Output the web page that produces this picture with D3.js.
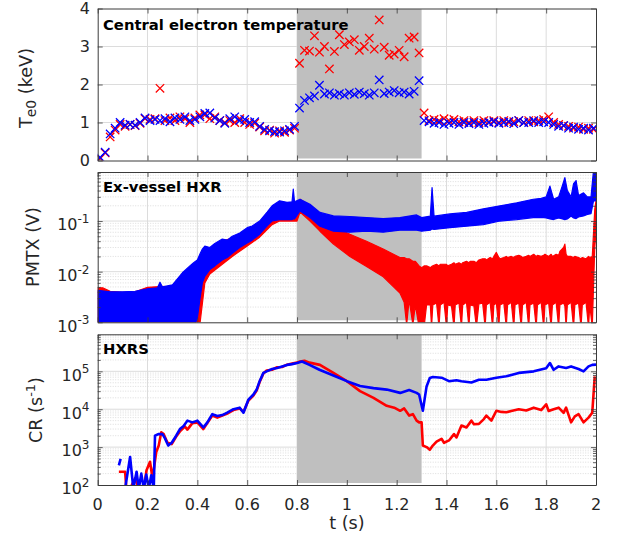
<!DOCTYPE html>
<html><head><meta charset="utf-8">
<script src="https://cdn.jsdelivr.net/npm/d3@7"></script>
<style>
body{margin:0;background:#fff}
svg{display:block}
text{font-family:"DejaVu Sans",sans-serif;fill:#262626}
</style>
</head><body>
<svg id="c" width="620" height="538"></svg>
<script>
// ---------------- DATA ----------------
const X_TICKS = [0,0.2,0.4,0.6,0.8,1,1.2,1.4,1.6,1.8,2];
const X_LABELS = ["0","0.2","0.4","0.6","0.8","1","1.2","1.4","1.6","1.8","2"];
const SHADE = [0.8, 1.3];

// Panel 1: central electron temperature (keV)
const TE_T = [0.01,0.03,0.05,0.07,0.09,0.11,0.13,0.15,0.17,0.19,0.21,0.23,0.25,0.27,0.29,0.31,0.33,0.35,0.37,0.39,
  0.41,0.43,0.45,0.47,0.49,0.51,0.53,0.55,0.57,0.59,0.61,0.63,0.65,0.67,0.69,0.71,0.73,0.75,0.77,0.79,
  0.81,0.83,0.85,0.87,0.89,0.91,0.93,0.95,0.97,0.99,1.01,1.03,1.05,1.07,1.09,1.11,1.13,1.15,1.17,1.19,
  1.21,1.23,1.25,1.27,1.29,1.31,1.33,1.35,1.37,1.39,1.41,1.43,1.45,1.47,1.49,1.51,1.53,1.55,1.57,1.59,
  1.61,1.63,1.65,1.67,1.69,1.71,1.73,1.75,1.77,1.79,1.81,1.83,1.85,1.87,1.89,1.91,1.93,1.95,1.97,1.99];
const TE_BLUE = [0.08,0.22,0.70,0.85,1.00,0.93,0.95,0.93,1.00,1.12, 1.05,1.08,1.05,1.10,1.02,1.12,1.08,1.15,1.05,1.08,
  1.15,1.24,1.25,1.12,1.05,0.98,1.10,1.15,1.05,1.08, 1.00,1.02,0.90,0.82,0.78,0.76,0.75,0.78,0.82,0.90,
  1.38,1.58,1.65,1.70,1.98,1.75,1.78,1.72,1.76,1.72, 1.78,1.74,1.80,1.76,1.72,1.78,2.12,1.76,1.80,1.84,
  1.78,1.80,1.75,1.82,2.10, 1.05,1.02,0.98,1.00,0.95, 0.98,1.00,0.95,1.00,0.97,1.00,0.95,0.98,1.00,1.02,
  0.98,1.00,1.03,0.97,1.05,1.00,1.00,1.05,1.00,1.02, 1.00,0.95,0.90,0.92,0.85,0.88,0.82,0.85,0.80,0.85];
const TE_RED = [0.05,0.20,0.62,0.80,0.95,0.90,0.95,0.92,0.98,1.10, 1.08,1.10,1.90,1.05,1.12,1.05,1.15,1.10,1.00,1.12,
  1.20,1.20,1.10,1.15,1.05,1.00,1.05,1.00,1.10,1.00, 0.95,0.98,0.88,0.78,0.80,0.72,0.78,0.74,0.80,0.85,
  2.56,2.90,2.88,3.28,2.85,3.00,2.41,2.87,3.31,3.05, 3.12,3.18,2.90,3.00,3.22,2.93,3.70,2.98,2.77,2.80,
  2.90,2.73,3.22,3.25,2.83, 1.25,1.05,1.08,1.05,1.10, 1.05,1.08,1.02,1.05,1.00,1.05,1.00,1.05,1.02,1.05,
  1.00,1.05,1.00,1.02,1.05,1.00,1.05,1.02,1.05,1.08, 1.15,1.00,0.95,0.92,0.90,0.85,0.88,0.82,0.85,0.82];
const TE_TICKS = [0,1,2,3,4];

// Panel 2: ex-vessel HXR, PMTX (V) -- noisy signal envelope [t, upper, lower]
const PMTX_BLUE = [[0,0.0043,0.0008],[0.05,0.0040,0.0008],[0.1,0.0040,0.0008],[0.15,0.0041,0.0008],[0.2,0.0046,0.0008],
  [0.24,0.0048,0.0008],[0.25,0.0062,0.0008],[0.26,0.005,0.0008],[0.3,0.0055,0.0008],[0.34,0.0095,0.0008],
  [0.37,0.013,0.0008],[0.385,0.015,0.0008],[0.4,0.017,0.0012],[0.41,0.022,0.0028],[0.42,0.028,0.006],[0.43,0.032,0.0081],
  [0.45,0.03,0.011],[0.47,0.036,0.013],[0.5,0.044,0.017],[0.52,0.042,0.019],[0.54,0.05,0.023],[0.57,0.058,0.03],
  [0.6,0.074,0.037],[0.62,0.08,0.042],[0.65,0.1,0.055],[0.68,0.15,0.08],[0.7,0.2,0.1],[0.73,0.251,0.107],[0.76,0.234,0.107],
  [0.78,0.24,0.107],[0.785,0.427,0.11],[0.79,0.24,0.11],[0.812,0.269,0.158],[0.852,0.214,0.117],[0.892,0.148,0.079],
  [0.946,0.126,0.063],[1.012,0.123,0.06],[1.079,0.117,0.063],[1.146,0.112,0.06],[1.213,0.117,0.066],[1.28,0.132,0.066],
  [1.3,0.117,0.063],[1.335,0.125,0.066],[1.342,0.457,0.07],[1.35,0.125,0.068],[1.414,0.138,0.074],[1.481,0.148,0.079],
  [1.548,0.174,0.085],[1.615,0.2,0.1],[1.682,0.229,0.107],[1.748,0.269,0.117],[1.78,0.28,0.118],[1.80,0.3,0.115],
  [1.815,0.49,0.11],[1.83,0.27,0.107],[1.85,0.3,0.115],[1.865,0.5,0.11],[1.875,0.72,0.107],[1.885,0.4,0.11],
  [1.9,0.3,0.126],[1.91,0.55,0.115],[1.92,0.63,0.112],[1.93,0.32,0.12],[1.95,0.36,0.126],[1.965,0.3,0.135],
  [1.98,0.3,0.14],[1.99,1.0,0.25],[2.0,1.0,0.25]];
const PMTX_RED = [[0,0.0048,0.0008],[0.02,0.0048,0.0008],[0.05,0.0041,0.0008],[0.1,0.0039,0.0008],[0.15,0.004,0.0008],
  [0.2,0.0049,0.0008],[0.25,0.0051,0.0008],[0.3,0.005,0.0008],[0.34,0.009,0.0008],[0.37,0.012,0.0008],[0.39,0.014,0.0008],
  [0.4,0.015,0.0008],[0.41,0.02,0.0009],[0.43,0.028,0.006],[0.45,0.028,0.009],[0.5,0.04,0.014],[0.54,0.046,0.02],
  [0.6,0.068,0.032],[0.65,0.09,0.048],[0.7,0.16,0.085],[0.73,0.2,0.1],[0.76,0.2,0.1],[0.8,0.21,0.1],[0.812,0.269,0.151],
  [0.852,0.2,0.1],[0.892,0.126,0.063],[0.946,0.079,0.035],[1.012,0.055,0.02],[1.079,0.04,0.0126],[1.146,0.028,0.0079],
  [1.213,0.019,0.0038],[1.23,0.019,0.0025],[1.24,0.018,0.0009],[1.25,0.018,0.0028],[1.265,0.016,0.0009],[1.275,0.016,0.0022],
  [1.29,0.013,0.0008],[1.3,0.012,0.0008],[1.31,0.013,0.0008],[1.32,0.013,0.0022],[1.335,0.012,0.0022],[1.34,0.0126,0.0008],
  [1.345,0.013,0.0022],[1.36,0.014,0.0024],[1.37,0.013,0.0008],[1.375,0.014,0.0022],[1.39,0.014,0.0025],[1.4,0.014,0.0008],
  [1.405,0.013,0.0022],[1.42,0.014,0.0021],[1.43,0.015,0.0008],[1.435,0.014,0.0022],[1.45,0.015,0.0024],[1.46,0.014,0.0008],
  [1.465,0.015,0.0022],[1.48,0.016,0.0025],[1.49,0.015,0.0008],[1.495,0.016,0.0022],[1.51,0.016,0.0021],[1.52,0.015,0.0008],
  [1.53,0.017,0.0023],[1.545,0.018,0.0024],[1.555,0.018,0.0008],[1.56,0.017,0.0022],[1.575,0.019,0.0025],[1.585,0.018,0.0008],
  [1.59,0.02,0.0022],[1.6,0.024,0.0024],[1.61,0.019,0.0008],[1.615,0.018,0.0022],[1.63,0.019,0.0024],[1.64,0.02,0.0008],
  [1.645,0.019,0.0022],[1.66,0.02,0.0025],[1.67,0.019,0.0008],[1.675,0.02,0.0022],[1.69,0.021,0.0024],[1.7,0.02,0.0008],
  [1.705,0.019,0.0022],[1.72,0.02,0.0025],[1.73,0.021,0.0008],[1.735,0.02,0.0022],[1.75,0.022,0.0024],[1.76,0.02,0.0008],
  [1.765,0.021,0.0022],[1.78,0.02,0.0025],[1.79,0.021,0.0008],[1.795,0.022,0.0022],[1.81,0.02,0.0024],[1.82,0.022,0.0008],
  [1.825,0.02,0.0022],[1.84,0.022,0.0025],[1.85,0.021,0.0008],[1.855,0.025,0.0022],[1.87,0.03,0.0024],[1.875,0.035,0.0021],
  [1.88,0.022,0.0008],[1.885,0.02,0.0022],[1.9,0.02,0.0025],[1.91,0.019,0.0008],[1.915,0.02,0.0022],[1.93,0.019,0.0024],
  [1.94,0.018,0.0008],[1.945,0.019,0.0022],[1.96,0.018,0.0025],[1.97,0.02,0.0008],[1.975,0.019,0.0022],[1.985,0.02,0.0008],
  [1.995,0.17,0.03],[2.0,0.25,0.06]];
const PMTX_TICKS = [1e-3,1e-2,1e-1];
const PMTX_EXP = ["-3","-2","-1"];

// Panel 3: HXRS count rate (s^-1)  [t, value]; null = gap
const CR_BLUE = [[0.085,330],[0.092,490],[0.1,null],[0.11,80],[0.13,550],[0.143,80],[0.156,224],[0.165,80],[0.175,200],
  [0.185,80],[0.195,190],[0.205,80],[0.215,180],[0.225,80],[0.23,2000],[0.243,2200],[0.26,2200],[0.27,1700],[0.283,1100],
  [0.297,1300],[0.315,2000],[0.33,3000],[0.345,3600],[0.36,5000],[0.38,4500],[0.4,5000],[0.424,3300],[0.44,4500],
  [0.46,7400],[0.48,6600],[0.5,7000],[0.518,8000],[0.545,10000],[0.57,11000],[0.585,8100],[0.605,18000],[0.625,24500],
  [0.638,33000],[0.65,55000],[0.665,91000],[0.678,100000],[0.7,115000],[0.72,123000],[0.74,135000],[0.76,148000],
  [0.78,155000],[0.8,166000],[0.82,182000],[0.85,148000],[0.89,110000],[0.946,78000],[1.0,55000],[1.053,41000],
  [1.107,36000],[1.16,33000],[1.214,27000],[1.25,32000],[1.28,27000],[1.29,24500],[1.305,9100],[1.32,40000],
  [1.333,67000],[1.345,71000],[1.38,68000],[1.41,55000],[1.44,58000],[1.46,55000],[1.5,51000],[1.53,60000],
  [1.56,60000],[1.6,68000],[1.64,74000],[1.69,91000],[1.75,100000],[1.8,120000],[1.815,166000],[1.83,110000],
  [1.85,135000],[1.88,123000],[1.9,135000],[1.93,115000],[1.95,100000],[1.97,135000],[1.985,148000],[2.0,150000]];
const CR_RED = [[0.085,224],[0.11,224],[0.115,80],[0.13,80],[0.15,150],[0.165,80],[0.185,80],[0.196,245],[0.21,410],
  [0.22,150],[0.235,740],[0.245,1100],[0.255,2450],[0.265,2200],[0.28,1300],[0.297,1200],[0.315,1900],[0.33,2600],
  [0.35,3500],[0.36,2900],[0.38,4300],[0.4,4500],[0.424,3000],[0.44,4300],[0.46,6800],[0.48,6000],[0.5,6800],
  [0.518,7600],[0.545,9500],[0.57,10500],[0.585,8500],[0.605,17000],[0.625,23000],[0.638,31000],[0.65,52000],
  [0.665,88000],[0.678,105000],[0.7,110000],[0.72,128000],[0.74,130000],[0.76,150000],[0.78,160000],[0.8,170000],
  [0.812,182000],[0.83,190000],[0.85,170000],[0.892,148000],[0.946,91000],[1.0,55000],[1.053,30000],[1.107,20000],
  [1.16,12300],[1.19,11000],[1.214,9100],[1.23,10500],[1.25,6800],[1.265,7400],[1.28,5000],[1.29,4500],[1.3,4500],
  [1.305,1100],[1.32,1000],[1.333,850],[1.345,1100],[1.36,1400],[1.38,1660],[1.39,1300],[1.41,1500],[1.43,2200],
  [1.44,1800],[1.46,3700],[1.48,3300],[1.5,5000],[1.51,4000],[1.53,4100],[1.55,5500],[1.56,6800],[1.58,5000],
  [1.6,9100],[1.62,8500],[1.64,8300],[1.66,9000],[1.69,10000],[1.72,9300],[1.75,11000],[1.78,9500],[1.8,13500],
  [1.81,9000],[1.83,10000],[1.85,11000],[1.87,8000],[1.88,11000],[1.9,4500],[1.915,6500],[1.93,7400],[1.95,4500],
  [1.97,6000],[1.985,8100],[1.995,74000]];
const CR_TICKS = [1e2,1e3,1e4,1e5];
const CR_EXP = ["2","3","4","5"];

const RED = "#ff0000", BLUE = "#0000ff";

// ---------------- LAYOUT ----------------
const svg = d3.select("#c");
const defs = svg.append("defs");
svg.append("rect").attr("width",620).attr("height",538).attr("fill","#fff");
const XL = 97.7, XR = 596;
const x = d3.scaleLinear().domain([0,2]).range([XL,XR]);

function logMinor(domain){
  const out=[];
  const lo=Math.floor(Math.log10(domain[0])), hi=Math.ceil(Math.log10(domain[1]));
  for(let d=lo; d<=hi; d++) for(let m=2;m<=9;m++){const v=m*Math.pow(10,d); if(v>domain[0]&&v<domain[1]) out.push(v);}
  return out;
}

const panels = [
  {top:8.5, bot:160.5, y:d3.scaleLinear().domain([0,4]).range([160.5,8.5]), major:TE_TICKS, title:"Central electron temperature", tY:29.5},
  {top:172, bot:322.3, y:d3.scaleLog().domain([1e-3,0.93]).range([322.3,172]), major:PMTX_TICKS, exp:PMTX_EXP, log:true, title:"Ex-vessel HXR", tY:192},
  {top:334.3, bot:485, y:d3.scaleLog().domain([1e2,9.5e5]).range([485,334.3]), major:CR_TICKS, exp:CR_EXP, log:true, title:"HXRS", tY:354}
];

panels.forEach((p,i)=>{
  const g = svg.append("g");
  const y = p.y, top=p.top, bot=p.bot;
  const cid = "clip"+i;
  defs.append("clipPath").attr("id",cid).append("rect")
    .attr("x",XL).attr("y",top).attr("width",XR-XL).attr("height",bot-top);
  const minor = p.log ? logMinor(y.domain()) : [];
  // grid
  const grid = g.append("g");
  grid.selectAll(".mg").data(minor).join("line")
    .attr("x1",XL).attr("x2",XR).attr("y1",d=>y(d)).attr("y2",d=>y(d))
    .attr("stroke","#cfcfcf").attr("stroke-width",0.7).attr("stroke-dasharray","1,1.5");
  grid.selectAll(".vg").data(X_TICKS.slice(1,-1)).join("line")
    .attr("x1",d=>x(d)).attr("x2",d=>x(d)).attr("y1",top).attr("y2",bot)
    .attr("stroke","#dcdcdc").attr("stroke-width",1);
  grid.selectAll(".hg").data(p.major.filter(v=>y(v)>top+1 && y(v)<bot-1)).join("line")
    .attr("x1",XL).attr("x2",XR).attr("y1",d=>y(d)).attr("y2",d=>y(d))
    .attr("stroke","#dcdcdc").attr("stroke-width",1);
  // shading
  g.append("rect").attr("x",x(SHADE[0])).attr("width",x(SHADE[1])-x(SHADE[0]))
    .attr("y",top+0.7).attr("height",bot-top-2.7).attr("fill","#bfbfbf");
  // data
  const dg = g.append("g").attr("clip-path",`url(#${cid})`);
  if(i===0){
    const mk = (sel,vals,color)=>{
      const pts = TE_T.map((t,k)=>[t,vals[k]]);
      sel.append("g").selectAll("path").data(pts).join("path")
        .attr("d",d=>{const cx=x(d[0]), cy=y(d[1]), s=4.2;
          return `M${cx-s},${cy-s}L${cx+s},${cy+s}M${cx-s},${cy+s}L${cx+s},${cy-s}`;})
        .attr("stroke",color).attr("stroke-width",1.3).attr("fill","none");
    };
    mk(dg,TE_RED,RED);
    mk(dg,TE_BLUE,BLUE);
  } else if(i===1){
    const area = d3.area().x(d=>x(d[0])).y0(d=>y(d[2])).y1(d=>y(d[1]));
    [[PMTX_RED,RED],[PMTX_BLUE,BLUE]].forEach(([data,c])=>{
      dg.append("path").attr("d",area(data)).attr("fill",c).attr("stroke",c).attr("stroke-width",1.2).attr("stroke-linejoin","round");
    });
  } else {
    const line = d3.line().defined(d=>d[1]!=null).x(d=>x(d[0])).y(d=>y(d[1]));
    [[CR_RED,RED],[CR_BLUE,BLUE]].forEach(([data,c])=>{
      dg.append("path").attr("d",line(data)).attr("fill","none").attr("stroke",c)
        .attr("stroke-width",2.6).attr("stroke-linejoin","round");
    });
  }
  // axes (inward ticks, box)
  const ax = g.append("g").attr("class","ax");
  ax.append("g").attr("transform",`translate(0,${bot})`).call(d3.axisBottom(x).tickValues(X_TICKS).tickSizeInner(-5).tickSizeOuter(0).tickFormat(""));
  ax.append("g").attr("transform",`translate(0,${top})`).call(d3.axisTop(x).tickValues(X_TICKS).tickSizeInner(-5).tickSizeOuter(0).tickFormat(""));
  ax.append("g").attr("transform",`translate(${XL},0)`).call(d3.axisLeft(y).tickValues(p.major).tickSizeInner(-5).tickSizeOuter(0).tickFormat(""));
  ax.append("g").attr("transform",`translate(${XR},0)`).call(d3.axisRight(y).tickValues(p.major).tickSizeInner(-5).tickSizeOuter(0).tickFormat(""));
  if(p.log){
    ax.append("g").attr("class","mn").attr("transform",`translate(${XL},0)`).call(d3.axisLeft(y).tickValues(minor).tickSizeInner(-3).tickSizeOuter(0).tickFormat(""));
    ax.append("g").attr("class","mn").attr("transform",`translate(${XR},0)`).call(d3.axisRight(y).tickValues(minor).tickSizeInner(-3).tickSizeOuter(0).tickFormat(""));
  }
  ax.selectAll(".mn .domain").remove();
  ax.selectAll(".domain").attr("stroke","#3a3a3a").attr("stroke-width",1);
  ax.selectAll(".tick line").attr("stroke","#3a3a3a").attr("stroke-width",0.8);
  // y tick labels
  const lab = g.append("g").attr("font-size",16);
  if(!p.log){
    lab.selectAll("text").data(p.major).join("text")
      .attr("x",90).attr("y",d=>y(d)+5.8).attr("text-anchor","end").text(d=>d);
  } else {
    p.major.forEach((v,k)=>{
      const t = lab.append("text").attr("x",89.5).attr("y",y(v)+9.3).attr("text-anchor","end");
      t.append("tspan").text("10");
      t.append("tspan").attr("font-size",12).attr("dy",-7.4).text(p.exp[k]);
    });
  }
  // title
  g.append("text").attr("x",103).attr("y",p.tY).attr("font-size",14.8).attr("font-weight","bold")
    .style("fill","#000").text(p.title);
});

// x tick labels (bottom panel)
svg.append("g").attr("font-size",16).selectAll("text").data(X_TICKS).join("text")
  .attr("x",d=>x(d)).attr("y",509.5).attr("text-anchor","middle").text((d,k)=>X_LABELS[k]);

// axis labels
svg.append("text").attr("x",x(1)).attr("y",529).attr("text-anchor","middle").attr("font-size",17.6).text("t (s)");
(function(){
  const t = svg.append("text").attr("transform","translate(32,88) rotate(-90)").attr("text-anchor","middle").attr("font-size",17.6);
  t.append("tspan").text("T");
  t.append("tspan").attr("font-size",14).attr("dy",4).text("e0");
  t.append("tspan").attr("dy",-4).text(" (keV)");
  svg.append("text").attr("transform","translate(39,247) rotate(-90)").attr("text-anchor","middle").attr("font-size",17.6).text("PMTX (V)");
  const c = svg.append("text").attr("transform","translate(41.5,410) rotate(-90)").attr("text-anchor","middle").attr("font-size",17.6);
  c.append("tspan").text("CR (s");
  c.append("tspan").attr("font-size",13).attr("dy",-7).text("-1");
  c.append("tspan").attr("dy",7).text(")");
})();
</script>
</body></html>
